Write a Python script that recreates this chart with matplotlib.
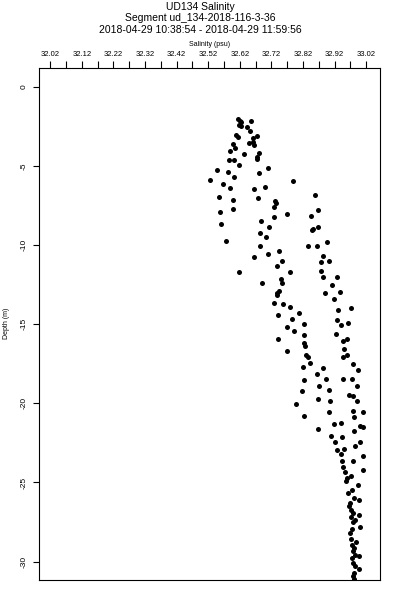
import numpy as np
import matplotlib
matplotlib.use('Agg')
import matplotlib.pyplot as plt
from matplotlib.ticker import FixedLocator

plt.rcParams['font.family'] = ['Liberation Sans', 'DejaVu Sans']

# salinity (psu) and depth (m)
salinity = np.array([
    32.616, 32.621, 32.656, 32.619, 32.624, 32.642, 32.653, 32.609, 32.616, 32.674,
    32.661, 32.663, 32.648, 32.666, 32.600, 32.605, 32.590, 32.635, 32.682, 32.676,
    32.674, 32.587, 32.602, 32.619, 32.548, 32.584, 32.603, 32.681, 32.708, 32.526,
    32.790, 32.568, 32.590, 32.666, 32.700, 32.553, 32.598, 32.679, 32.732, 32.735,
    32.859, 32.727, 32.771, 32.869, 32.846, 32.558, 32.598, 32.687, 32.714, 32.560,
    32.685, 32.704, 32.848, 32.853, 32.869, 32.577, 32.685, 32.837, 32.866, 32.896,
    32.885, 32.904, 32.666, 32.711, 32.745, 32.739, 32.753, 32.878, 32.618, 32.780,
    32.878, 32.885, 32.927, 32.690, 32.750, 32.755, 32.911, 32.938, 32.737, 32.745,
    32.890, 32.919, 32.739, 32.730, 32.756, 32.780, 32.930, 32.972, 32.742, 32.809,
    32.787, 32.824, 32.929, 32.940, 32.963, 32.771, 32.792, 32.824, 32.925, 32.946,
    32.961, 32.742, 32.822, 32.827, 32.950, 32.959, 32.946, 32.769, 32.830, 32.836,
    32.841, 32.977, 32.993, 32.820, 32.885, 32.866, 32.893, 32.946, 32.976, 32.822,
    32.871, 32.904, 32.991, 32.817, 32.869, 32.906, 32.967, 32.978, 32.991, 32.798,
    32.824, 32.904, 32.978, 33.011, 32.982, 32.869, 32.919, 32.940, 33.001, 33.011,
    32.982, 32.908, 32.943, 32.922, 33.001, 32.986, 32.927, 32.950, 32.941, 33.011,
    32.945, 32.978, 32.948, 32.954, 32.973, 33.010, 32.956, 32.993, 32.964, 32.982,
    32.996, 32.966, 32.972, 32.998, 32.973, 32.977, 33.001, 32.975, 32.972, 32.988,
    32.980, 32.985, 32.999, 32.980, 32.999, 32.982, 32.982, 32.730, 32.960, 32.976,
    32.969, 32.979, 32.985, 32.969, 32.976, 32.982, 32.976, 32.985, 32.979, 32.624,
])
depth = np.array([
    -2.02, -2.13, -2.13, -2.40, -2.46, -2.55, -2.78, -3.03, -3.14, -3.10,
    -3.24, -3.46, -3.52, -3.66, -3.60, -3.87, -4.02, -4.23, -4.19, -4.40,
    -4.57, -4.61, -4.61, -4.93, -5.22, -5.35, -5.67, -5.41, -5.14, -5.87,
    -5.94, -6.15, -6.40, -6.46, -6.30, -6.93, -7.14, -7.03, -7.18, -7.31,
    -6.82, -7.60, -8.04, -7.77, -8.15, -7.92, -7.73, -8.46, -8.82, -8.67,
    -9.24, -9.46, -9.03, -8.99, -8.86, -9.75, -10.02, -10.02, -10.02, -9.77,
    -10.66, -10.99, -10.72, -10.55, -10.38, -11.31, -11.01, -11.04, -11.71, -11.71,
    -11.60, -12.02, -11.98, -12.40, -12.13, -12.36, -12.53, -12.93, -12.99, -12.87,
    -13.03, -13.41, -13.14, -13.66, -13.71, -13.92, -14.09, -13.94, -14.40, -14.30,
    -14.66, -14.95, -14.72, -15.02, -14.89, -15.14, -15.41, -15.65, -15.60, -16.06,
    -15.92, -15.92, -16.19, -16.34, -16.57, -16.91, -17.07, -16.66, -16.97, -17.07,
    -17.42, -17.50, -17.90, -17.71, -17.73, -18.17, -18.46, -18.45, -18.45, -18.49,
    -18.93, -19.14, -18.91, -19.22, -19.69, -19.85, -19.46, -19.52, -19.84, -20.04,
    -20.78, -20.55, -20.45, -20.57, -20.83, -21.60, -21.31, -21.24, -21.41, -21.50,
    -21.77, -22.09, -22.15, -22.44, -22.41, -22.72, -22.93, -22.89, -23.18, -23.35,
    -23.67, -23.67, -24.05, -24.34, -24.62, -24.24, -24.93, -25.14, -25.67, -25.98,
    -26.13, -26.51, -26.77, -27.04, -27.18, -27.50, -27.81, -27.94, -28.55, -28.79,
    -29.35, -29.56, -29.67, -30.09, -30.47, -30.72, -31.10, -8.19, -24.70, -25.46,
    -26.28, -26.91, -27.35, -28.17, -28.93, -29.12, -29.75, -30.26, -30.89, -2.21,
])

sal_ticks = np.round(np.arange(32.02, 33.03, 0.1), 2)
depth_ticks = [0, -5, -10, -15, -20, -25, -30]

fig = plt.figure(figsize=(4, 6), dpi=100)
ax = fig.add_axes([0.097, 0.034, 0.853, 0.853])

ax.plot(salinity, depth, 'o', color='black', markersize=3.6, markeredgewidth=0)

ax.set_xlim(31.984, 33.064)
ax.set_ylim(-31.14, 1.22)

# salinity axis on top
ax.xaxis.tick_top()
ax.xaxis.set_label_position('top')
ax.xaxis.set_major_locator(FixedLocator(sal_ticks))
ax.xaxis.set_minor_locator(FixedLocator(np.round(sal_ticks[:-1] + 0.05, 3)))
ax.set_xticklabels(['%.2f' % v for v in sal_ticks])
ax.tick_params(axis='x', which='both', length=5, width=0.8, pad=2, labelsize=5.5)
ax.set_xlabel('Salinity (psu)', fontsize=5, labelpad=4)

ax.set_yticks(depth_ticks)
ax.set_yticklabels([str(v) for v in depth_ticks], rotation=90, va='center')
ax.tick_params(axis='y', length=4, width=0.8, pad=4, labelsize=6)
ax.set_ylabel('Depth (m)', fontsize=5, labelpad=8)

for s in ax.spines.values():
    s.set_linewidth(0.8)

fig.text(0.5, 0.997, 'UD134 Salinity', ha='center', va='top', fontsize=7.5)
fig.text(0.5, 0.978, 'Segment ud_134-2018-116-3-36', ha='center', va='top', fontsize=7.5)
fig.text(0.5, 0.959, '2018-04-29 10:38:54 - 2018-04-29 11:59:56', ha='center', va='top', fontsize=7.5)

fig.savefig('out.png', dpi=100)
